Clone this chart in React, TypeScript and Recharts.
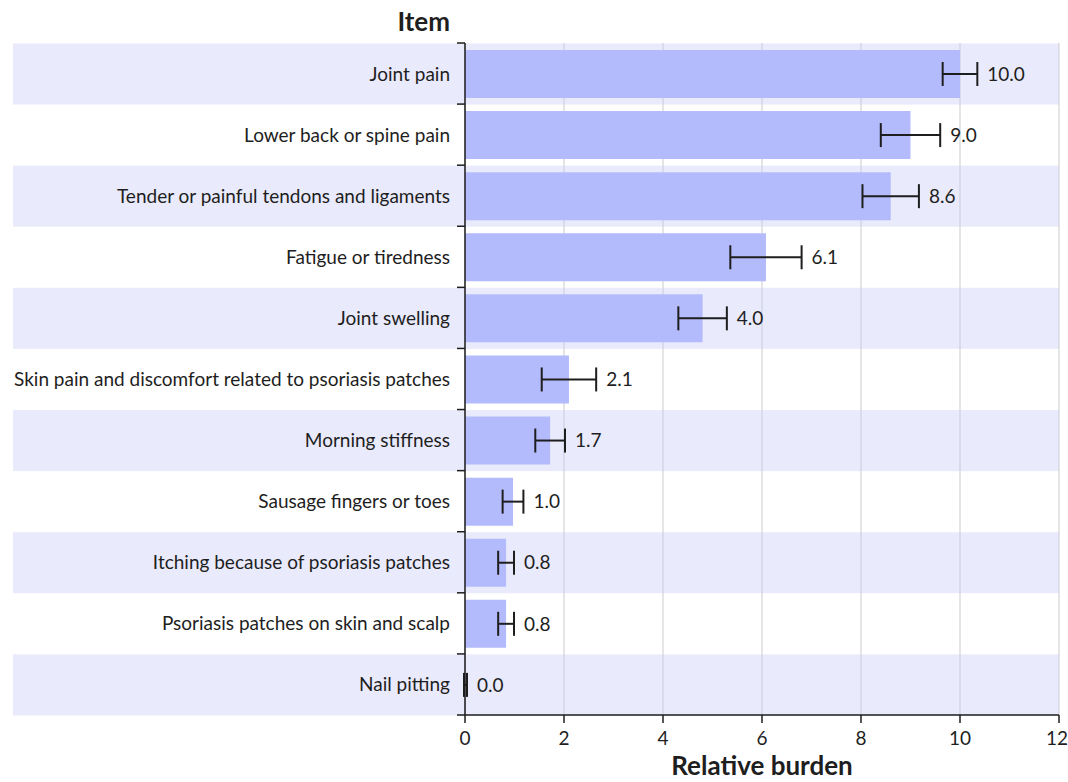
import React from 'react';
import { BarChart, Bar, XAxis, YAxis, CartesianGrid, ErrorBar, LabelList } from 'recharts';

const items = [
  'Joint pain',
  'Lower back or spine pain',
  'Tender or painful tendons and ligaments',
  'Fatigue or tiredness',
  'Joint swelling',
  'Skin pain and discomfort related to psoriasis patches',
  'Morning stiffness',
  'Sausage fingers or toes',
  'Itching because of psoriasis patches',
  'Psoriasis patches on skin and scalp',
  'Nail pitting',
];
const burden = [10.0, 9.0, 8.6, 6.08, 4.8, 2.1, 1.72, 0.97, 0.83, 0.83, 0.01];
const errors = [0.35, 0.6, 0.57, 0.72, 0.49, 0.55, 0.3, 0.21, 0.16, 0.16, 0.03];
const valueLabels = ['10.0', '9.0', '8.6', '6.1', '4.0', '2.1', '1.7', '1.0', '0.8', '0.8', '0.0'];
const xTicks = [0, 2, 4, 6, 8, 10, 12];

const W = 1068;
const H = 782;
const TOP = 43;
const XAXIS_H = 67;
const RIGHT = 9;
const YAXIS_W = 465;
const BAND = (H - TOP - XAXIS_H) / items.length;
const BAR_SIZE = 48;
const BAND_LEFT = 13;

const FONT = 'Lato, "Open Sans", sans-serif';
const BAR_COLOR = '#b4bbfc';
const BAND_COLOR = 'rgba(200, 203, 246, 0.4)';
const INK = '#1e1e1e';

const data = items.map((item, i) => ({
  item,
  burden: burden[i],
  err: errors[i],
  gap: errors[i],
  label: valueLabels[i],
}));

// striped rows that run under the category labels too
const RowBand = (props: any) => {
  const { y, height, index } = props;
  const pad = (BAND - height) / 2;
  if (index % 2 !== 0) return <g key={`bg-${index}`} />;
  return (
    <rect
      key={`bg-${index}`}
      x={BAND_LEFT}
      y={y - pad}
      width={W - RIGHT - BAND_LEFT}
      height={height + 2 * pad}
      fill={BAND_COLOR}
    />
  );
};

// label at row centre, tick marks on the row boundaries
const ItemTick = (props: any) => {
  const { y, payload, index } = props;
  const i = index ?? payload.index;
  const top = y - BAND / 2;
  return (
    <g>
      <line x1={YAXIS_W - 8} x2={YAXIS_W} y1={top} y2={top} stroke={INK} strokeWidth={1.5} />
      {i === items.length - 1 && (
        <line x1={YAXIS_W - 8} x2={YAXIS_W} y1={top + BAND} y2={top + BAND} stroke={INK} strokeWidth={1.5} />
      )}
      <text x={YAXIS_W - 15} y={y} dy={7} textAnchor="end" fontSize={19} fill={INK} fontFamily={FONT}>
        {payload.value}
      </text>
    </g>
  );
};

const titleStyle = { fontSize: 26, fontWeight: 700, fill: INK, fontFamily: FONT };

const ItemTitle = (props: any) => {
  const vb = props.viewBox;
  return (
    <text x={vb.x + vb.width - 15} y={vb.y - 12} textAnchor="end" style={titleStyle}>
      Item
    </text>
  );
};

const BurdenTitle = (props: any) => {
  const vb = props.viewBox;
  return (
    <text x={vb.x + vb.width / 2} y={vb.y + vb.height - 7} textAnchor="middle" style={titleStyle}>
      Relative burden
    </text>
  );
};

export default function App() {
  return (
    <div style={{ position: 'absolute', left: 0, top: 0, width: W, height: H, background: '#fff' }}>
      <BarChart
        width={W}
        height={H}
        data={data}
        layout="vertical"
        margin={{ top: TOP, right: RIGHT, bottom: 0, left: 0 }}
        barSize={BAR_SIZE}
      >
        <CartesianGrid horizontal={false} stroke="#dcdcdc" strokeWidth={1.5} />
        <XAxis
          type="number"
          domain={[0, 12]}
          ticks={xTicks}
          height={XAXIS_H}
          stroke={INK}
          strokeWidth={1.5}
          tickSize={8}
          tick={{ fontSize: 19, fill: INK, fontFamily: FONT }}
          tickMargin={9}
          label={<BurdenTitle />}
        />
        <YAxis
          type="category"
          dataKey="item"
          width={YAXIS_W}
          stroke={INK}
          strokeWidth={1.5}
          tickLine={false}
          interval={0}
          tick={<ItemTick />}
          label={<ItemTitle />}
        />
        <Bar dataKey="burden" stackId="s" fill={BAR_COLOR} background={RowBand} isAnimationActive={false}>
          <ErrorBar dataKey="err" direction="x" width={12} stroke={INK} strokeWidth={2} />
        </Bar>
        <Bar dataKey="gap" stackId="s" fill="transparent" isAnimationActive={false}>
          <LabelList
            dataKey="label"
            position="right"
            offset={10}
            style={{ fontSize: 19, fill: INK, fontFamily: FONT }}
          />
        </Bar>
      </BarChart>
    </div>
  );
}
